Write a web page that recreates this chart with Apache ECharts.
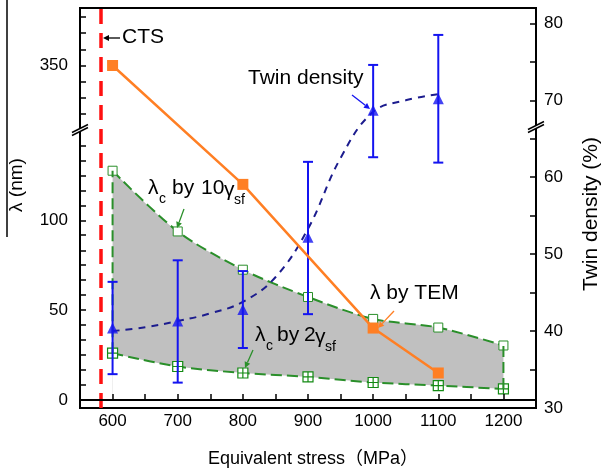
<!DOCTYPE html>
<html>
<head>
<meta charset="utf-8">
<script src="https://cdn.jsdelivr.net/npm/echarts@6/dist/echarts.min.js"></script>
<style>html,body{margin:0;background:#fff}#chart{width:601px;height:472px}</style>
</head>
<body>
<div id="chart"></div>
<script>
// values
const stress = [600, 700, 800, 900, 1000, 1100, 1200];
const lambda10 = [127.6, 93.8, 72.5, 57.3, 45.1, 40.3, 30.3];   // λc by 10γsf
const lambda2 = [26.0, 18.6, 15.0, 12.8, 9.7, 8.0, 6.1];        // λc by 2γsf
const temStress = [600, 800, 1000, 1100];
const lambdaTEM = [350, 120, 40, 15];                            // λ by TEM
const twinStress = [600, 700, 800, 900, 1000, 1100];
const twin = [40.4, 41.3, 42.8, 52.2, 68.7, 70.2];               // twin density (%)
const twinLow = [34.4, 33.3, 37.8, 42.2, 62.6, 61.9];
const twinHigh = [46.4, 49.2, 47.8, 62.0, 74.6, 78.5];
const fitStress = [600, 650, 700, 750, 800, 850, 900, 950, 1000, 1050, 1100];
const twinFit = [40.0, 40.5, 41.3, 42.3, 43.8, 47.0, 53.3, 62.5, 68.5, 70.0, 70.8];
const ctsStress = 582;

const xLabels = [600, 700, 800, 900, 1000, 1100, 1200];
const leftLabels = [0, 50, 100, 350];
const leftTicks = [0, 8.3, 16.7, 25, 33.3, 41.7, 50, 58.3, 66.7, 75, 83.3, 91.7, 100,
  108.3, 116.7, 125, 133.3, 141.7, 323, 332, 341, 350, 359, 368, 377];
const rightLabels = [30, 40, 50, 60, 70, 80];

const FONT = '"Liberation Sans", Arial, "Noto Sans CJK SC", sans-serif';
const ORANGE = '#ff7f24', GREEN = '#2a8f2a', BLUE = '#1414f0', NAVY = '#1c1c8e';

const chart = echarts.init(document.getElementById('chart'));

function arrow(x1, y1, x2, y2, color) {
  const a = Math.atan2(y2 - y1, x2 - x1), L = 6, W = 3;
  const bx = x2 - L * Math.cos(a), by = y2 - L * Math.sin(a);
  return [
    { type: 'line', z: 30, shape: { x1, y1, x2: bx, y2: by }, style: { stroke: color, lineWidth: 1.3 } },
    { type: 'polygon', z: 30, shape: { points: [[x2, y2],
      [bx + W * Math.sin(a), by - W * Math.cos(a)], [bx - W * Math.sin(a), by + W * Math.cos(a)]] },
      style: { fill: color } },
  ];
}
function txt(x, y, text, size, align, rot) {
  align = align || 'left';
  return { type: 'text', z: 30, x, y, rotation: rot || 0, style: {
    text, font: size + 'px ' + FONT, fill: '#000',
    align, verticalAlign: 'middle', textAlign: align, textVerticalAlign: 'middle' } };
}
function breakMark(cx, cy) {
  return [
    { type: 'polygon', z: 25, shape: { points: [[cx - 7, cy + 2], [cx + 7, cy - 5], [cx + 7, cy - 2], [cx - 7, cy + 5]] }, style: { fill: '#fff' } },
    { type: 'line', z: 26, shape: { x1: cx - 8, y1: cy + 2.5, x2: cx + 8, y2: cy - 5.5 }, style: { stroke: '#000', lineWidth: 1.5 } },
    { type: 'line', z: 26, shape: { x1: cx - 8, y1: cy + 5.5, x2: cx + 8, y2: cy - 2.5 }, style: { stroke: '#000', lineWidth: 1.5 } },
  ];
}

const graphics = [].concat(
  breakMark(80, 130), breakMark(536, 127),
  [{ type: 'line', z: 30, shape: { x1: 7, y1: 0, x2: 7, y2: 237 }, style: { stroke: '#000', lineWidth: 1.5 } }],
  [txt(17, 185, 'λ (nm)', 19, 'center', Math.PI / 2)],
  [txt(591, 214, 'Twin density (%)', 21, 'center', Math.PI / 2)],
  [txt(313, 459, 'Equivalent stress（MPa）', 18, 'center')],
  [txt(122, 37, 'CTS', 21)], arrow(120, 38, 103, 38, '#000'),
  [txt(248, 78, 'Twin density', 21)], arrow(352, 95, 370, 109, BLUE),
  [txt(148, 188, 'λ', 21), txt(159, 199, 'c', 14), txt(172, 188, 'by', 21), txt(201, 188, '10', 21),
   txt(224, 190, 'γ', 21), txt(234, 200, 'sf', 14)], arrow(184, 209, 177, 228, GREEN),
  [txt(370, 293, 'λ by TEM', 21)], arrow(394, 311, 378, 328, ORANGE),
  [txt(255, 335, 'λ', 21), txt(266, 346, 'c', 14), txt(277, 335, 'by', 21), txt(304, 335, '2', 21),
   txt(315, 337, 'γ', 21), txt(325, 347, 'sf', 14)], arrow(253, 350, 245, 368, GREEN)
);

const crossSquare = 'path://M0,0H10V10H0Z M5,0V10 M0,5H10';

chart.setOption({
  animation: false,
  grid: { left: 80, right: 65, top: 8, bottom: 64, show: true, borderColor: '#000', borderWidth: 2 },
  xAxis: {
    type: 'value', min: 550, max: 1250, interval: 50, z: 10,
    axisLine: { lineStyle: { color: '#000', width: 2 } },
    axisTick: { inside: true, length: 6, lineStyle: { color: '#000', width: 1.5 } },
    axisLabel: { customValues: xLabels, formatter: v => String(v), fontSize: 17, fontFamily: FONT, color: '#000', margin: 5 },
    splitLine: { show: false },
  },
  yAxis: [{
    type: 'value', min: -4.5, max: 382, position: 'left', z: 10,
    breaks: [{ start: 150.5, end: 314.3, gap: 0 }],
    breakArea: { show: false },
    axisLine: { show: true, lineStyle: { color: '#000', width: 2 } },
    axisTick: { inside: true, length: 6, customValues: leftTicks, lineStyle: { color: '#000', width: 1.5 } },
    axisLabel: { customValues: leftLabels, formatter: v => String(v), fontSize: 17, fontFamily: FONT, color: '#000', margin: 12 },
    splitLine: { show: false },
  }, {
    type: 'value', min: 30, max: 82, interval: 5, position: 'right', z: 10,
    axisLine: { show: true, lineStyle: { color: '#000', width: 2 } },
    axisTick: { inside: true, length: 6, lineStyle: { color: '#000', width: 1.5 } },
    axisLabel: { customValues: rightLabels, formatter: v => String(v), fontSize: 17, fontFamily: FONT, color: '#000', margin: 8 },
    splitLine: { show: false },
  }],
  graphic: graphics,
  series: [
    { // λc by 10γsf with grey band down to the axis
      type: 'line', z: 1, smooth: 0.3, data: stress.map((x, i) => [x, lambda10[i]]),
      symbol: 'rect', symbolSize: 9,
      itemStyle: { color: '#fff', borderColor: GREEN, borderWidth: 1 },
      lineStyle: { color: GREEN, width: 2, type: [11, 5] },
      areaStyle: { color: '#c0c0c0', opacity: 1 },
    },
    { // λc by 2γsf, white underneath to close the band
      type: 'line', z: 2, smooth: 0.3, data: stress.map((x, i) => [x, lambda2[i]]),
      symbol: crossSquare, symbolSize: 10,
      itemStyle: { color: '#fff', borderColor: '#138a13', borderWidth: 1.2 },
      lineStyle: { color: GREEN, width: 2, type: [11, 5] },
      areaStyle: { color: '#fff', opacity: 1 },
    },
    { type: 'line', z: 3, symbol: 'none', data: [[stress[0], lambda2[0]], [stress[0], lambda10[0]]],
      lineStyle: { color: GREEN, width: 2, type: [11, 5] } },
    { type: 'line', z: 3, symbol: 'none', data: [[stress[6], lambda2[6]], [stress[6], lambda10[6]]],
      lineStyle: { color: GREEN, width: 2, type: [11, 5] } },
    { // twin density fit curve
      type: 'line', yAxisIndex: 1, z: 4, smooth: 0.4, symbol: 'none',
      data: fitStress.map((x, i) => [x, twinFit[i]]),
      lineStyle: { color: NAVY, width: 2, type: [7, 6] },
    },
    { // error bars
      type: 'custom', yAxisIndex: 1, z: 5,
      data: twinStress.map((x, i) => [x, twinLow[i], twinHigh[i]]),
      encode: { x: 0, y: [1, 2] },
      renderItem(params, api) {
        const x = api.value(0);
        const lo = api.coord([x, api.value(1)]);
        const hi = api.coord([x, api.value(2)]);
        const st = { stroke: BLUE, lineWidth: 2 };
        return { type: 'group', children: [
          { type: 'line', shape: { x1: lo[0], y1: lo[1], x2: hi[0], y2: hi[1] }, style: st },
          { type: 'line', shape: { x1: lo[0] - 5, y1: lo[1], x2: lo[0] + 5, y2: lo[1] }, style: st },
          { type: 'line', shape: { x1: hi[0] - 5, y1: hi[1], x2: hi[0] + 5, y2: hi[1] }, style: st },
        ] };
      },
    },
    { type: 'scatter', yAxisIndex: 1, z: 6, symbol: 'triangle', symbolSize: 11,
      data: twinStress.map((x, i) => [x, twin[i]]), itemStyle: { color: BLUE } },
    { // λ by TEM + CTS marker
      type: 'line', z: 7, data: temStress.map((x, i) => [x, lambdaTEM[i]]),
      symbol: 'rect', symbolSize: 11,
      itemStyle: { color: ORANGE }, lineStyle: { color: ORANGE, width: 2.5 },
      markLine: {
        silent: true, symbol: ['none', 'none'], label: { show: false },
        lineStyle: { color: '#ff1010', width: 3.5, type: [15, 9] },
        data: [{ xAxis: ctsStress }],
      },
    },
  ],
});
</script>
</body>
</html>
